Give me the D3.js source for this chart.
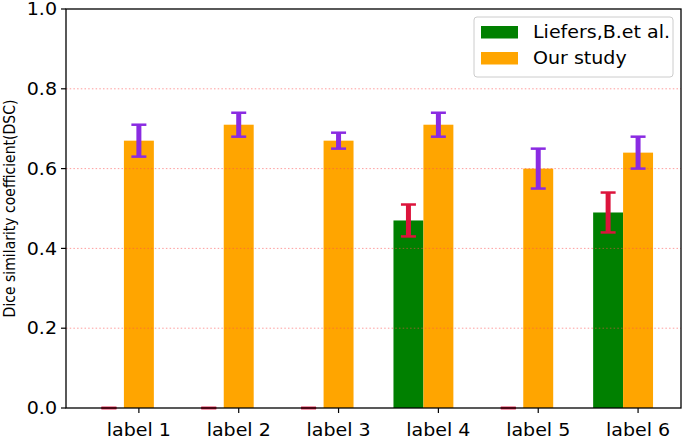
<!DOCTYPE html>
<html lang="en">
  <head>
    <meta charset="UTF-8" />
    <title>Dice similarity coefficient</title>
    <style>
      body {
        margin: 0;
        padding: 0;
        background: #fff;
      }
      svg text {
        font-family: "DejaVu Sans", sans-serif;
        fill: #000;
      }
    </style>
  </head>
  <body>
    <svg id="chart"></svg>
    <script src="https://d3js.org/d3.v7.min.js"></script>
    <script>
      const labels = ["label 1", "label 2", "label 3", "label 4", "label 5", "label 6"];
      const liefers = [0, 0, 0, 0.47, 0, 0.49];
      const liefersErr = [0, 0, 0, 0.04, 0, 0.05];
      const ours = [0.67, 0.71, 0.67, 0.71, 0.6, 0.64];
      const oursErr = [0.04, 0.03, 0.02, 0.03, 0.05, 0.04];
      const yTicks = [0, 0.2, 0.4, 0.6, 0.8, 1.0];
      const gridTicks = [0.2, 0.4, 0.6, 0.8];
      const seriesNames = ["Liefers,B.et al.", "Our study"];

      const width = 685;
      const height = 439;
      const mLeft = 66, mRight = 681, mTop = 9, mBottom = 408;
      const k = 1.12; // picture is stretched sideways, so is the text

      const svg = d3.select("#chart").attr("width", width).attr("height", height);

      const x = d3.scaleLinear().domain([-0.73, 5.43]).range([mLeft, mRight]);
      const y = d3.scaleLinear().domain([0, 1]).range([mBottom, mTop]);
      const bw = 0.3;

      // bars
      svg.selectAll(".green")
        .data(liefers)
        .enter()
        .append("rect")
        .attr("x", (d, i) => x(i - 1.5 * bw))
        .attr("width", (d, i) => x(i - 0.5 * bw) - x(i - 1.5 * bw))
        .attr("y", (d) => y(d))
        .attr("height", (d) => y(0) - y(d))
        .attr("fill", "#008000");

      svg.selectAll(".orange")
        .data(ours)
        .enter()
        .append("rect")
        .attr("x", (d, i) => x(i - 0.5 * bw))
        .attr("width", (d, i) => x(i + 0.5 * bw) - x(i - 0.5 * bw))
        .attr("y", (d) => y(d))
        .attr("height", (d) => y(0) - y(d))
        .attr("fill", "#ffa500");

      // dotted grid over the bars
      svg.selectAll(".grid")
        .data(gridTicks)
        .enter()
        .append("line")
        .attr("x1", mLeft)
        .attr("x2", mRight)
        .attr("y1", (d) => y(d))
        .attr("y2", (d) => y(d))
        .attr("stroke", "#ff4d4d")
        .attr("stroke-opacity", 0.55)
        .attr("stroke-width", 1)
        .attr("stroke-dasharray", "1.5,2.2");

      // error bars
      function errorBars(vals, errs, offset, color) {
        const g = svg.append("g");
        vals.forEach(function (v, i) {
          const cx = x(i + offset);
          const lo = y(v - errs[i]);
          const hi = y(v + errs[i]);
          g.append("line")
            .attr("x1", cx).attr("x2", cx)
            .attr("y1", lo).attr("y2", hi)
            .attr("stroke", color).attr("stroke-width", 5);
          [lo, hi].forEach(function (yy) {
            g.append("line")
              .attr("x1", cx - 7.5).attr("x2", cx + 7.5)
              .attr("y1", yy).attr("y2", yy)
              .attr("stroke", color).attr("stroke-width", 2.5);
          });
        });
      }
      errorBars(liefers, liefersErr, -bw, "#dc143c");
      errorBars(ours, oursErr, 0, "#8a2be2");

      // frame
      svg.append("rect")
        .attr("x", mLeft).attr("y", mTop)
        .attr("width", mRight - mLeft).attr("height", mBottom - mTop)
        .attr("fill", "none").attr("stroke", "#000").attr("stroke-width", 1.3);

      // y ticks
      const yt = svg.selectAll(".ytick").data(yTicks).enter().append("g");
      yt.append("line")
        .attr("x1", mLeft - 5).attr("x2", mLeft)
        .attr("y1", (d) => y(d)).attr("y2", (d) => y(d))
        .attr("stroke", "#000").attr("stroke-width", 1.2);
      yt.append("text")
        .attr("transform", (d) => `translate(${mLeft - 9},${y(d)}) scale(${k},1)`)
        .attr("text-anchor", "end")
        .attr("dy", "0.36em")
        .style("font-size", "17px")
        .text((d) => d.toFixed(1));

      // x ticks
      const xt = svg.selectAll(".xtick").data(labels).enter().append("g");
      xt.append("line")
        .attr("x1", (d, i) => x(i)).attr("x2", (d, i) => x(i))
        .attr("y1", mBottom).attr("y2", mBottom + 5)
        .attr("stroke", "#000").attr("stroke-width", 1.2);
      xt.append("text")
        .attr("transform", (d, i) => `translate(${x(i)},${mBottom + 28}) scale(${k},1)`)
        .attr("text-anchor", "middle")
        .style("font-size", "17px")
        .text((d) => d);

      // y axis label
      svg.append("text")
        .attr("transform", `translate(15,${(mTop + mBottom) / 2}) rotate(-90) scale(1,${k})`)
        .attr("text-anchor", "middle")
        .style("font-size", "14px")
        .text("Dice similarity coefficient(DSC)");

      // legend
      const lg = svg.append("g");
      lg.append("rect")
        .attr("x", 474).attr("y", 17)
        .attr("width", 199).attr("height", 60)
        .attr("rx", 3)
        .attr("fill", "#fff").attr("fill-opacity", 0.8)
        .attr("stroke", "#cccccc").attr("stroke-width", 1);
      const colors = ["#008000", "#ffa500"];
      seriesNames.forEach(function (name, i) {
        const cy = 32 + i * 26;
        lg.append("rect")
          .attr("x", 481).attr("y", cy - 6)
          .attr("width", 37).attr("height", 12.5)
          .attr("fill", colors[i]);
        lg.append("text")
          .attr("transform", `translate(533,${cy}) scale(${k},1)`)
          .attr("dy", "0.36em")
          .style("font-size", "17px")
          .text(name);
      });
    </script>
  </body>
</html>
